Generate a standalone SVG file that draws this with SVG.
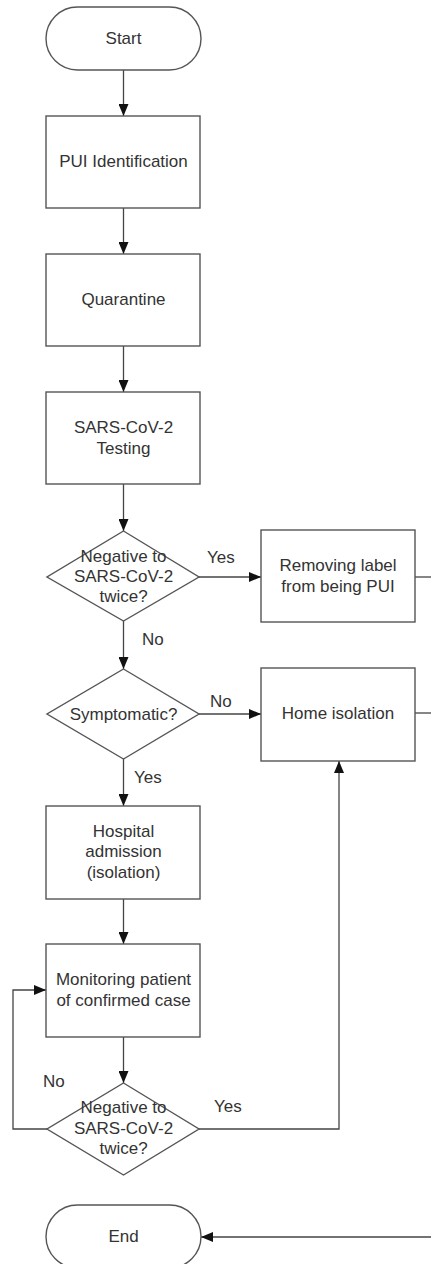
<svg xmlns="http://www.w3.org/2000/svg" width="431" height="1264" viewBox="0 0 431 1264">
<style>
.shape{fill:#fff;stroke:#555;stroke-width:1.4}
.conn{fill:none;stroke:#444;stroke-width:1.3}
text{font-family:"Liberation Sans",Arial,sans-serif;font-size:17px;fill:#333;text-anchor:middle}
.lbl{text-anchor:start}
</style>
<defs>
<marker id="arr" markerUnits="userSpaceOnUse" markerWidth="12" markerHeight="10" refX="12" refY="5" orient="auto">
<path d="M0,0 L12,5 L0,10 z" fill="#111"/>
</marker>
</defs>
<rect width="431" height="1264" fill="#fff"/>
<g id="connectors">
<path class="conn" d="M123.5,70 V116" marker-end="url(#arr)"/>
<path class="conn" d="M123.5,208 V254" marker-end="url(#arr)"/>
<path class="conn" d="M123.5,346 V392" marker-end="url(#arr)"/>
<path class="conn" d="M123.5,484 V531" marker-end="url(#arr)"/>
<path class="conn" d="M199,577 H261" marker-end="url(#arr)"/>
<path class="conn" d="M123.5,621 V669" marker-end="url(#arr)"/>
<path class="conn" d="M199,714 H261" marker-end="url(#arr)"/>
<path class="conn" d="M123.5,759 V806" marker-end="url(#arr)"/>
<path class="conn" d="M123.5,899 V944" marker-end="url(#arr)"/>
<path class="conn" d="M123.5,1037 V1083" marker-end="url(#arr)"/>
<path class="conn" d="M47,1129 H13 V990 H46" marker-end="url(#arr)"/>
<path class="conn" d="M199,1129 H339 V761" marker-end="url(#arr)"/>
<path class="conn" d="M415,577 H431"/>
<path class="conn" d="M415,713 H431"/>
<path class="conn" d="M431,1237 H201" marker-end="url(#arr)"/>
<text class="lbl" x="207" y="562.5">Yes</text>
<text class="lbl" x="142" y="645">No</text>
<text class="lbl" x="210" y="706.5">No</text>
<text class="lbl" x="134" y="783">Yes</text>
<text class="lbl" x="43" y="1087">No</text>
<text class="lbl" x="214" y="1111.5">Yes</text>
</g>
<g id="start">
<rect class="shape" x="46" y="7" width="155" height="63" rx="31.5"/>
<text x="123.5" y="44">Start</text>
</g>
<g id="pui">
<rect class="shape" x="46" y="116" width="154" height="92"/>
<text x="123.5" y="166.5">PUI Identification</text>
</g>
<g id="quarantine">
<rect class="shape" x="46" y="254" width="154" height="92"/>
<text x="123.5" y="305">Quarantine</text>
</g>
<g id="testing">
<rect class="shape" x="46" y="392" width="154" height="92"/>
<text x="123.5" y="433">SARS-CoV-2</text>
<text x="123.5" y="454">Testing</text>
</g>
<g id="decision1">
<polygon class="shape" points="123.5,531 199,577 123.5,621 47,577"/>
<text x="123.5" y="561.5">Negative to</text>
<text x="123.5" y="582">SARS-CoV-2</text>
<text x="123.5" y="602">twice?</text>
</g>
<g id="removing">
<rect class="shape" x="261" y="530" width="154" height="92"/>
<text x="338" y="570.5">Removing label</text>
<text x="338" y="591.5">from being PUI</text>
</g>
<g id="symptomatic">
<polygon class="shape" points="123.5,669 199,714 123.5,759 47,714"/>
<text x="123.5" y="720">Symptomatic?</text>
</g>
<g id="home">
<rect class="shape" x="261" y="668" width="154" height="93"/>
<text x="338" y="719">Home isolation</text>
</g>
<g id="hospital">
<rect class="shape" x="46" y="806" width="154" height="93"/>
<text x="123.5" y="836.5">Hospital</text>
<text x="123.5" y="857">admission</text>
<text x="123.5" y="877.5">(isolation)</text>
</g>
<g id="monitoring">
<rect class="shape" x="46" y="944" width="154" height="93"/>
<text x="123.5" y="985">Monitoring patient</text>
<text x="123.5" y="1006">of confirmed case</text>
</g>
<g id="decision2">
<polygon class="shape" points="123.5,1083 199,1129 123.5,1175 47,1129"/>
<text x="123.5" y="1112.5">Negative to</text>
<text x="123.5" y="1134">SARS-CoV-2</text>
<text x="123.5" y="1154">twice?</text>
</g>
<g id="end">
<rect class="shape" x="46" y="1205" width="155" height="63" rx="31.5"/>
<text x="123.5" y="1241.5">End</text>
</g>
</svg>
